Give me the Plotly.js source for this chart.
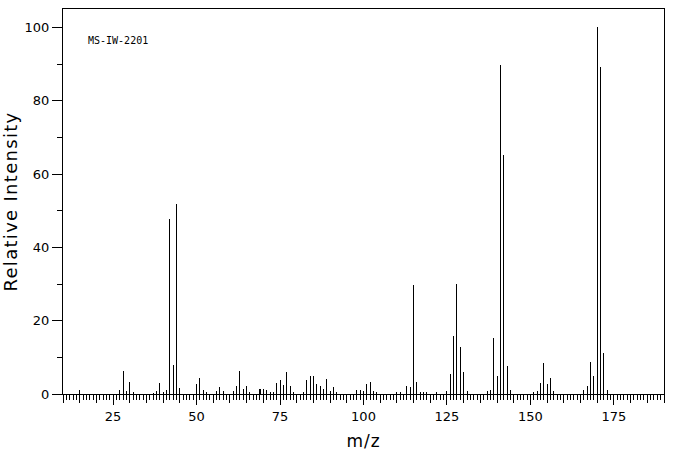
<!DOCTYPE html>
<html>
<head>
<meta charset="utf-8">
<script src="https://cdn.plot.ly/plotly-3.0.1.min.js"></script>
<style>
  html, body { margin: 0; padding: 0; background: #fff; }
  #chart { width: 676px; height: 455px; }
  .g-ytitle text { letter-spacing: 1.3px; }
  .g-xtitle text { letter-spacing: 1px; }
  .barlayer path { shape-rendering: crispEdges; }
</style>
</head>
<body>
<div id="chart"></div>
<script>
// m/z values of the peaks
const mz = [15, 27, 28, 29, 30, 31, 37, 38, 39, 40, 41, 42, 43, 44, 45,
  50, 51, 52, 53, 56, 57, 58, 61, 62, 63, 64, 65, 66,
  69, 70, 71, 72, 73, 74, 75, 76, 77, 78, 79,
  82, 83, 84, 85, 86, 87, 88, 89, 90, 91, 92,
  98, 99, 100, 101, 102, 103, 104, 110, 111,
  113, 114, 115, 116, 117, 118, 119, 122,
  125, 126, 127, 128, 129, 130, 131,
  137, 138, 139, 140, 141, 142, 143, 144,
  151, 152, 153, 154, 155, 156, 157,
  166, 167, 168, 169, 170, 171, 172, 173];
// relative intensities (%)
const intensity = [1.0, 1.0, 6.2, 0.8, 3.2, 0.5, 0.4, 0.8, 3.1, 0.5, 1.0, 47.6, 7.8, 51.7, 1.7,
  2.6, 4.3, 1.0, 0.5, 0.8, 2.0, 0.8, 0.8, 2.3, 6.4, 1.5, 2.3, 0.5,
  1.4, 1.5, 1.0, 0.5, 0.5, 2.9, 3.7, 2.4, 5.9, 2.1, 0.5,
  0.5, 3.7, 4.8, 5.0, 2.6, 2.1, 1.3, 4.0, 0.7, 1.8, 0.5,
  1.0, 1.0, 0.7, 2.6, 3.2, 0.7, 0.5, 0.5, 0.5,
  2.1, 1.8, 29.6, 3.2, 0.5, 0.5, 0.5, 0.5,
  0.7, 5.4, 15.7, 30.1, 12.7, 5.9, 0.7,
  0.7, 1.0, 15.3, 4.8, 89.6, 65.1, 7.6, 1.0,
  0.5, 0.7, 2.9, 8.4, 2.6, 4.5, 0.7,
  1.0, 2.1, 8.6, 5.0, 100, 89.2, 11.3, 1.0];

const xTickVals = [25, 50, 75, 100, 125, 150, 175];
const yTickVals = [0, 20, 40, 60, 80, 100];
const sampleId = 'MS-IW-2201';

const tickFont = { family: 'DejaVu Sans', size: 13, color: '#000' };

const traces = [
  {
    type: 'bar',
    x: mz,
    y: intensity,
    width: 0.3,
    marker: { color: '#000', line: { width: 0 } },
    hoverinfo: 'x+y',
    showlegend: false
  },
  {
    type: 'scatter',
    x: [xTickVals[0]],
    y: [0],
    xaxis: 'x2',
    yaxis: 'y',
    mode: 'none',
    hoverinfo: 'skip',
    showlegend: false
  }
];

const layout = {
  width: 676,
  height: 455,
  margin: { l: 63, r: 12, t: 9, b: 61 },
  paper_bgcolor: '#fff',
  plot_bgcolor: '#fff',
  showlegend: false,
  bargap: 0,
  xaxis: {
    range: [10, 190],
    tickmode: 'array',
    tickvals: xTickVals,
    ticktext: xTickVals.map(String),
    ticks: 'outside',
    ticklen: 10,
    tickwidth: 1,
    tickcolor: '#000',
    showline: true,
    linecolor: '#000',
    linewidth: 1,
    mirror: true,
    showgrid: false,
    zeroline: false,
    tickfont: tickFont,
    minor: { tick0: 0, dtick: 5, ticks: 'outside', ticklen: 8, tickwidth: 1, tickcolor: '#000', showgrid: false },
    title: { text: 'm/z', font: { family: 'DejaVu Sans', size: 17, color: '#000' }, standoff: 12 }
  },
  xaxis2: {
    overlaying: 'x',
    anchor: 'y',
    side: 'bottom',
    range: [10, 190],
    tickmode: 'linear',
    tick0: 0,
    dtick: 1,
    ticks: 'outside',
    ticklen: 5,
    tickwidth: 1,
    tickcolor: '#000',
    showticklabels: false,
    showline: false,
    showgrid: false,
    zeroline: false
  },
  yaxis: {
    range: [0, 105],
    tickmode: 'array',
    tickvals: yTickVals,
    ticktext: yTickVals.map(String),
    ticks: 'outside',
    ticklen: 10,
    tickwidth: 1,
    tickcolor: '#000',
    showline: true,
    linecolor: '#000',
    linewidth: 1,
    mirror: true,
    showgrid: false,
    zeroline: false,
    tickfont: tickFont,
    minor: { tick0: 0, dtick: 10, ticks: 'outside', ticklen: 5, tickwidth: 1, tickcolor: '#000', showgrid: false },
    title: { text: 'Relative Intensity', font: { family: 'DejaVu Sans', size: 18, color: '#000' }, standoff: 10 }
  },
  annotations: [
    {
      text: sampleId,
      xref: 'paper', yref: 'paper',
      x: 0.038, y: 0.919,
      xanchor: 'left', yanchor: 'middle',
      showarrow: false,
      font: { family: 'DejaVu Sans Mono', size: 10, color: '#000' }
    }
  ]
};

Plotly.newPlot('chart', traces, layout, { staticPlot: true, displayModeBar: false });
</script>
</body>
</html>
